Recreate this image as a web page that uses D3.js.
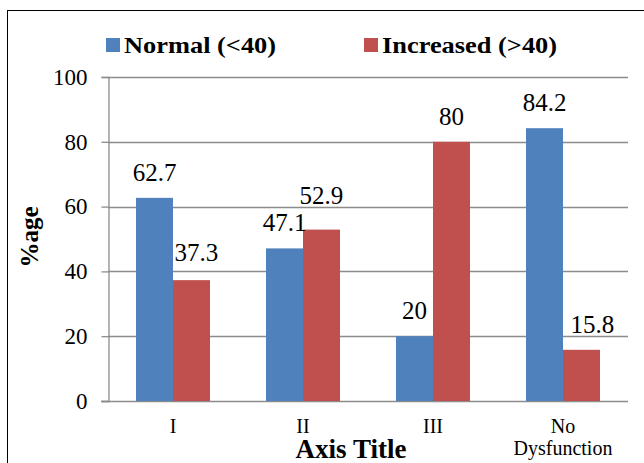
<!DOCTYPE html>
<html>
<head>
<meta charset="utf-8">
<script src="https://cdn.jsdelivr.net/npm/d3@7"></script>
<style>
  html, body { margin: 0; padding: 0; background: #fff; }
  svg { display: block; }
</style>
</head>
<body>
<svg id="chart" width="644" height="463"></svg>
<script>
// Grade categories on the x axis
const categories = ["I", "II", "III", "No Dysfunction"];
// Series names
const seriesNames = ["Normal (<40)", "Increased (>40)"];
// Percentages per category
const normalValues = [62.7, 47.1, 20, 84.2];
const increasedValues = [37.3, 52.9, 80, 15.8];
// Y axis ticks
const yTicks = [0, 20, 40, 60, 80, 100];

const FONT = "Liberation Serif";
const colors = ["#4F81BD", "#C0504D"];
const series = [normalValues, increasedValues];

const svg = d3.select("#chart");
const W = 644, H = 463;
const plot = { left: 108, right: 628, top: 77, bottom: 401 };

// Outer frame (top and left edges visible)
svg.append("rect")
  .attr("x", 7.5).attr("y", 10.5)
  .attr("width", W + 10).attr("height", H + 10)
  .attr("fill", "none").attr("stroke", "#000").attr("stroke-width", 1);

const x = d3.scaleBand()
  .domain(categories)
  .range([plot.left, plot.right])
  .paddingInner(0.4308)
  .paddingOuter(0.2154);

const xs = d3.scaleBand()
  .domain(d3.range(series.length))
  .range([0, x.bandwidth()]);

const y = d3.scaleLinear().domain([0, 100]).range([plot.bottom, plot.top]);

// Gridlines
svg.append("g")
  .selectAll("line")
  .data(yTicks)
  .join("line")
  .attr("x1", d => d === 0 ? plot.left - 7 : plot.left)
  .attr("x2", plot.right)
  .attr("y1", d => Math.round(y(d)) + 0.5)
  .attr("y2", d => Math.round(y(d)) + 0.5)
  .attr("stroke", "#8c8c8c")
  .attr("stroke-width", 1.3);

// Y axis
const yAxis = d3.axisLeft(y).tickValues(yTicks).tickSize(7).tickPadding(14);
const gy = svg.append("g")
  .attr("transform", `translate(${plot.left + 0.5},0)`)
  .call(yAxis);
gy.select(".domain").attr("stroke", "#8c8c8c").attr("stroke-width", 1.3);
gy.selectAll(".tick line").attr("stroke", "#8c8c8c").attr("stroke-width", 1.3);
gy.selectAll(".tick text")
  .style("font-family", FONT)
  .style("font-size", "23px")
  .attr("fill", "#000");

// Bars
const groups = svg.append("g")
  .selectAll("g")
  .data(series)
  .join("g")
  .attr("fill", (d, i) => colors[i]);

groups.selectAll("rect")
  .data((vals, si) => vals.map((v, ci) => ({ v, ci, si })))
  .join("rect")
  .attr("x", d => x(categories[d.ci]) + xs(d.si))
  .attr("width", xs.bandwidth())
  .attr("y", d => y(d.v))
  .attr("height", d => y(0) - y(d.v));

// Value labels above bars; a few are nudged to keep clear of neighbours
const labelNudge = { "1-0": [5, -2], "1-1": [0, -9], "1-3": [11, 0] };
const labels = [];
series.forEach((vals, si) => vals.forEach((v, ci) => labels.push({ v, si, ci })));
svg.append("g")
  .selectAll("text")
  .data(labels)
  .join("text")
  .attr("x", d => x(categories[d.ci]) + xs(d.si) + xs.bandwidth() / 2 + (labelNudge[d.si + "-" + d.ci] || [0, 0])[0])
  .attr("y", d => y(d.v) - 17 + (labelNudge[d.si + "-" + d.ci] || [0, 0])[1])
  .attr("text-anchor", "middle")
  .style("font-family", FONT)
  .style("font-size", "25px")
  .attr("fill", "#000")
  .text(d => d.v);

// Category labels (wrapped on spaces)
const catG = svg.append("g");
categories.forEach(c => {
  const t = catG.append("text")
    .attr("text-anchor", "middle")
    .style("font-family", FONT)
    .style("font-size", "20px")
    .attr("fill", "#000");
  c.split(" ").forEach((w, i) => {
    t.append("tspan")
      .attr("x", x(c) + x.bandwidth() / 2)
      .attr("y", 433 + i * 22)
      .text(w);
  });
});

// Axis titles
svg.append("text")
  .attr("x", 351).attr("y", 458)
  .attr("text-anchor", "middle")
  .style("font-family", FONT)
  .style("font-size", "27px").style("font-weight", "bold")
  .text("Axis Title");

svg.append("text")
  .attr("transform", "translate(38,237) rotate(-90)")
  .attr("text-anchor", "middle")
  .style("font-family", FONT)
  .style("font-size", "25px").style("font-weight", "bold")
  .text("%age");

// Legend
const legendPos = [106, 364];
const leg = svg.append("g");
seriesNames.forEach((name, i) => {
  leg.append("rect")
    .attr("x", legendPos[i]).attr("y", 38)
    .attr("width", 14).attr("height", 14)
    .attr("fill", colors[i]);
  leg.append("text")
    .attr("transform", `translate(${legendPos[i] + 18},53) scale(1.1,1)`)
    .style("font-family", FONT)
    .style("font-size", "24px").style("font-weight", "bold")
    .attr("fill", "#000")
    .text(name);
});
</script>
</body>
</html>
